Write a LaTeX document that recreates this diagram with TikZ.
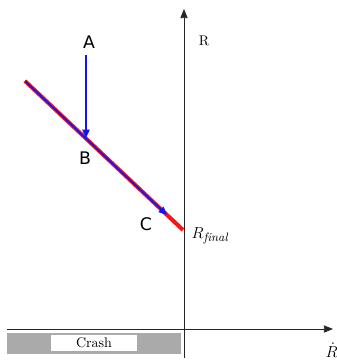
\documentclass[tikz,border=0pt]{standalone}
\usepackage{fontspec}
\usepackage{amsmath}
\usetikzlibrary{arrows.meta,positioning}
\newfontfamily\ptfont{DejaVu Sans}
\definecolor{pathblue}{RGB}{20,20,240}
\definecolor{pathred}{RGB}{250,20,20}
\definecolor{crashgray}{RGB}{170,170,170}
\tikzset{
  axis/.style={-{Triangle[length=2.4mm,width=1.9mm]},line width=0.6pt,draw=black!85},
  redpath/.style={line width=3pt,draw=pathred},
  bluepath/.style={-{Triangle[length=2.2mm,width=1.9mm]},line width=1.3pt,draw=pathblue},
  ptlabel/.style={font=\ptfont\fontsize{13}{15}\selectfont,inner sep=1pt}
}

\begin{document}
\begin{tikzpicture}[
  x=0.75pt,y=-0.75pt,
  axislabel/.style={font=\fontsize{10.5}{12}\selectfont,inner sep=1pt},
  mathlabel/.style={font=\fontsize{13}{15}\selectfont,inner sep=1pt},
  crashbar/.style={fill=crashgray,draw=none},
  crashbox/.style={fill=white,draw=none,font=\fontsize{10.5}{12}\selectfont,
    minimum width=86*0.75pt,minimum height=16*0.75pt,inner sep=0pt}
]
\useasboundingbox (0,0) rectangle (336,361);

% crash region below the Rdot axis
\fill[crashbar] (7,333) rectangle (181,354);
\node[crashbox] (crash) at (94,343) {Crash};

% axes
\coordinate (origin) at (184,329);
\coordinate (xstart) at (7,329);
\coordinate (xend) at (333,329);
\coordinate (ystart) at (184,358);
\coordinate (yend) at (184,9);
\draw[axis] (xstart) -- (xend);
\draw[axis] (ystart) -- (yend);
\node[axislabel] (rlab) at (204,41) {R};
\node[mathlabel,anchor=west] (rdot) at (324,350) {$\dot{R}$};

% sliding path
\coordinate (start) at (25,81);
\coordinate (final) at (183,230);
\coordinate (ctip) at (167,215);
\draw[redpath] (start) -- (final);
\draw[bluepath] (start) -- (ctip);

% approach from A to B
\node[ptlabel] (A) at (89,42) {A};
\coordinate (atop) at (86,55);
\coordinate (bhit) at (86,138);
\draw[bluepath] (atop) -- (bhit);
\node[ptlabel] (B) at (85,158) {B};
\node[ptlabel] (C) at (146,224) {C};
\node[mathlabel,anchor=west] (rfinal) at (190,236) {$R_{\mathit{final}}$};
\end{tikzpicture}
\end{document}
